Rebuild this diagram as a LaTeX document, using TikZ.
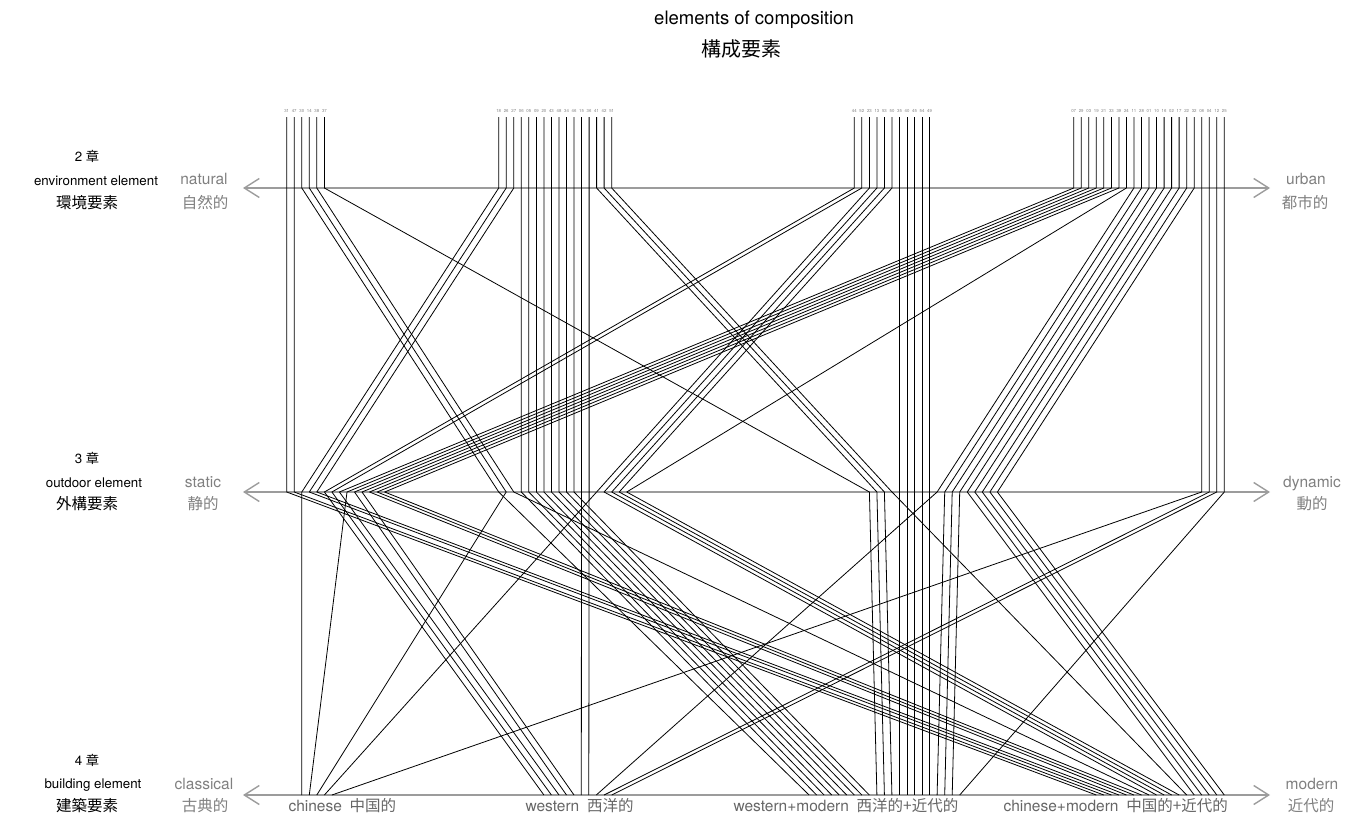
\documentclass[tikz,border=0pt]{standalone}
\usepackage{fontspec}
\setmainfont{TeX Gyre Heros}
\newfontfamily\jp{Noto Sans CJK JP}
\usepackage{xcolor}
\usepackage{tikz}
\usetikzlibrary{arrows.meta}

\definecolor{axisgray}{HTML}{9C9C9C}
\definecolor{polegray}{HTML}{808080}
\definecolor{groupgray}{HTML}{666666}

\begin{document}
\begin{tikzpicture}[
    x=1pt, y=-1pt,
    axis/.style={draw=axisgray, line width=1.4pt, {Straight Barb[length=15pt, width=19pt]}-{Straight Barb[length=15pt, width=19pt]}},
    chap/.style={anchor=base, font=\fontsize{13.3}{15}\selectfont},
    pole/.style={anchor=base, text=polegray, font=\fontsize{15.5}{17}\selectfont},
    group/.style={anchor=base west, text=groupgray, font=\fontsize{15.5}{17}\selectfont},
    num/.style={inner sep=0pt, text=polegray, font=\fontsize{4.3}{5}\selectfont},
    link/.style={line width=0.8pt, line join=round}
]
\useasboundingbox (0,0) rectangle (1359,816);

% title
\node[font=\fontsize{18.5}{20}\selectfont] (title) at (754,20) {elements of composition};
\node[font=\fontsize{20}{22}\selectfont\jp] (titlejp) at (741,49) {構成要素};

% chapters on the left
\node[chap] (ch2) at (87,161) {2 {\jp 章}};
\node[chap] (ch2en) at (96,185) {environment element};
\node[chap] (ch2jp) at (87,208) {\fontsize{15.5}{17}\selectfont\jp 環境要素};
\node[chap] (ch3) at (87,463) {3 {\jp 章}};
\node[chap] (ch3en) at (94,487) {outdoor element};
\node[chap] (ch3jp) at (87,509) {\fontsize{15.5}{17}\selectfont\jp 外構要素};
\node[chap] (ch4) at (87,765) {4 {\jp 章}};
\node[chap] (ch4en) at (93,788) {building element};
\node[chap] (ch4jp) at (87,811) {\fontsize{15.5}{17}\selectfont\jp 建築要素};

% poles of the three axes
\node[pole] (natural) at (204,184) {natural};
\node[pole] (naturaljp) at (205,208) {\jp 自然的};
\node[pole] (urban) at (1306,184) {urban};
\node[pole] (urbanjp) at (1305,208) {\jp 都市的};
\node[pole] (static) at (203,487) {static};
\node[pole] (staticjp) at (203,509) {\jp 静的};
\node[pole] (dynamic) at (1312,487) {dynamic};
\node[pole] (dynamicjp) at (1312,509) {\jp 動的};
\node[pole] (classical) at (204,789) {classical};
\node[pole] (classicaljp) at (205,811) {\jp 古典的};
\node[pole] (modern) at (1312,789) {modern};
\node[pole] (modernjp) at (1311,811) {\jp 近代的};

\coordinate (ax1l) at (243,188);
\coordinate (ax1r) at (1270,188);
\coordinate (ax2l) at (243,492);
\coordinate (ax2r) at (1270,492);
\coordinate (ax3l) at (243,795);
\coordinate (ax3r) at (1270,795);
\draw[axis] (ax1l) -- (ax1r);
\draw[axis] (ax2l) -- (ax2r);
\draw[axis] (ax3l) -- (ax3r);

% groups on the bottom axis
\node[group] (chinese) at (285,811) {chinese\enspace{\jp 中国的}};
\node[group] (western) at (522,811) {western\enspace{\jp 西洋的}};
\node[group] (westmod) at (730,811) {western+modern\enspace{\jp 西洋的+近代的}};
\node[group] (chinmod) at (1000,811) {chinese+modern\enspace{\jp 中国的+近代的}};

% cases: number / axis 1 / axis 2 / axis 3
\foreach \n/\xa/\xb/\xc in {
    31/286.7/286.7/1096.3, 47/294.2/294.2/1103.8, 30/301.8/498.7/809.1,
    14/309.3/506.2/316.8, 38/316.8/513.8/1149.0, 37/324.4/869.4/876.9,
    18/498.7/301.8/301.8, 26/506.2/309.3/1111.4, 27/513.8/316.8/1118.9,
    06/521.3/521.3/816.6, 05/528.8/528.8/824.1, 09/536.4/536.4/831.7,
    20/543.9/543.9/839.2, 43/551.4/551.4/846.7, 48/559.0/559.0/854.3,
    34/566.5/566.5/861.8, 46/574.0/574.0/869.3, 15/581.5/581.5/581.3,
    36/589.1/589.1/588.8, 41/596.6/876.9/884.4, 42/604.1/884.4/891.9,
    51/611.7/892.0/1186.7,
    44/854.3/324.4/543.9, 52/861.8/331.9/551.4, 23/869.4/596.6/324.4,
    13/876.9/604.1/1156.5, 53/884.4/611.7/1164.1, 50/892.0/619.2/1171.6,
    35/899.5/899.5/899.5, 40/907.0/907.0/907.0, 45/914.5/914.5/914.5,
    54/922.1/922.1/922.1, 49/929.6/929.6/929.6,
    07/1073.7/339.4/559.0, 29/1081.2/347.0/309.3, 03/1088.8/354.5/566.5,
    19/1096.3/362.0/574.0, 21/1103.8/369.5/1126.4, 33/1111.4/377.1/1133.9,
    39/1118.9/384.6/1141.5, 24/1126.4/626.7/1179.1, 11/1133.9/937.1/596.3,
    28/1141.5/944.7/937.1, 01/1149.0/952.2/944.7, 10/1156.5/959.7/952.2,
    16/1164.1/967.3/1194.2, 02/1171.6/974.8/1201.7, 17/1179.1/982.3/1209.2,
    22/1186.7/989.9/1216.8, 32/1194.2/997.4/1224.3, 08/1201.7/1201.7/331.9,
    04/1209.2/1209.2/604.1, 12/1216.8/1216.8/611.7, 25/1224.3/1224.3/959.7}
{
    \node[num] (lab\n) at (\xa,111) {\n};
    \coordinate (top\n) at (\xa,117);
    \coordinate (env\n) at (\xa,188);
    \coordinate (out\n) at (\xb,492);
    \coordinate (bld\n) at (\xc,795);
    \draw[link] (top\n) -- (env\n) -- (out\n) -- (bld\n);
}
\end{tikzpicture}
\end{document}
